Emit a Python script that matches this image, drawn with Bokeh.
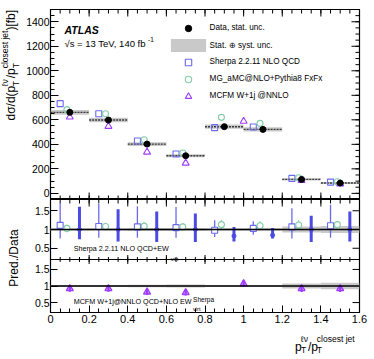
import math
from bokeh.plotting import figure
from bokeh.models import Range1d, FixedTicker, Label, Legend, LegendItem, Span
from bokeh.core.properties import value
from bokeh.layouts import column, row
from bokeh.embed import file_html
from bokeh.resources import INLINE

# ---------------- data ----------------
bin_lo = [0.0, 0.2, 0.4, 0.6, 0.8, 1.0, 1.2, 1.4]
bin_hi = [0.2, 0.4, 0.6, 0.8, 1.0, 1.2, 1.4, 1.6]
data_val = [661, 598, 402, 307, 544, 522, 114, 84]
data_tot_unc = [20, 18, 15, 13, 17, 17, 9, 8]
sherpa_val = [732, 650, 427, 321, 536, 541, 122, 92]
mg_val = [683, 650, 438, 329, 620, 571, 128, 95]
mcfm_lo = [0.0, 0.2, 0.4, 0.6, 0.8, 1.2, 1.4]
mcfm_hi = [0.2, 0.4, 0.6, 0.8, 1.2, 1.4, 1.6]
mcfm_val = [623, 547, 337, 247, 588, 105, 78]

# ratio panel 1
sherpa_ratio = [1.11, 1.08, 1.07, 1.05, 0.98, 1.03, 1.07, 1.10]
sherpa_ratio_lo = [0.76, 0.78, 0.78, 0.78, 0.80, 0.86, 0.76, 0.78]
sherpa_ratio_hi = [1.71, 1.68, 1.62, 1.60, 1.25, 1.22, 1.57, 1.66]
mg_ratio = [1.03, 1.08, 1.09, 1.07, 1.13, 1.10, 1.12, 1.13]
mg_ratio_err = [0.10, 0.10, 0.10, 0.10, 0.12, 0.12, 0.12, 0.10]
ew_ratio = [1.00, 1.00, 1.00, 1.00, 0.83, 0.85, 1.00, 1.00]
ew_ratio_lo = [0.74, 0.68, 0.67, 0.67, 0.68, 0.76, 0.67, 0.68]
ew_ratio_hi = [1.61, 1.54, 1.48, 1.43, 1.07, 1.04, 1.37, 1.48]
# ratio panel 2
mcfm_ew_ratio = [0.92, 0.92, 0.82, 0.80, 1.07, 0.92, 0.92]
mcfm_ew_err = [0.09, 0.09, 0.09, 0.09, 0.10, 0.10, 0.10]

x_ticks = [0, 0.2, 0.4, 0.6, 0.8, 1, 1.2, 1.4, 1.6]
x_tick_labels = ["0", "0.2", "0.4", "0.6", "0.8", "1", "1.2", "1.4", "1.6"]
x_minor = [round(i * 0.05, 2) for i in range(33)]
y_ticks = [0, 200, 400, 600, 800, 1000, 1200, 1400]
y_minor = [i * 50 for i in range(-1, 31)]
r_ticks = [0.5, 1, 1.5]
r_tick_labels = ["0.5", "1", "1.5"]

# ---------------- style ----------------
FONT = "Liberation Sans"
C_SHERPA = "#6a6af0"
C_EW = "#4b4be3"
C_MG = "#80cda6"
C_MCFM = "#9d3cff"
C_BAND = "#c9c9c9"

SW = 23            # left title strip width
W = 346            # panel figure width
LB, RB = 25, 10
TOP = 9
MAIN_H = 190
P1_H, P2_H = 60, 53
QB = 17
BS_H = 29
TOT_H = TOP + MAIN_H + P1_H + P2_H + QB + BS_H

centers = [(a + b) / 2 for a, b in zip(bin_lo, bin_hi)]
mcfm_c = [(a + b) / 2 for a, b in zip(mcfm_lo, mcfm_hi)]

CW = {'a': .556, 'b': .556, 'c': .5, 'd': .556, 'e': .556, 'f': .278, 'g': .556, 'h': .556, 'i': .222,
      'j': .222, 'k': .5, 'l': .222, 'm': .833, 'n': .556, 'o': .556, 'p': .556, 'r': .333, 's': .5,
      't': .278, 'u': .556, 'v': .5, 'w': .722, 'x': .5, 'y': .5, 'T': .611, ' ': .278, '/': .278,
      '(': .333, ')': .333, '[': .278, ']': .278, 'σ': .58, 'ℓ': .42, 'ν': .5, '.': .278, '-': .333,
      'S': .667, 'E': .667, 'W': .944, 'Q': .778, 'C': .722, 'D': .722, 'N': .722, 'L': .556,
      'O': .778, 'M': .833, 'F': .611, '+': .584, '@': 1.015, '2': .556, '1': .556, '=': .584,
      '3': .556, '4': .556, '0': .556, 'V': .667, ',': .278, '√': .549}


def tw(s, size):
    return sum(CW.get(ch, 0.556) for ch in s) * size


def lab(fig, x, y, text, size, style="normal"):
    fig.add_layout(Label(x=x, y=y, x_units="screen", y_units="screen", text=text, text_font=FONT,
                         text_font_size=f"{size}px", text_align="left", text_baseline="alphabetic",
                         text_font_style=style, text_color="black"))


def gtext(fig, x, y, text, size, angle=0.0, align="left"):
    fig.text(x=[x], y=[y], text=[text], angle=angle, text_font=value(FONT),
             text_font_size=value(f"{size}px"), text_align=align, text_baseline="alphabetic",
             text_color="black")


def strip(width, height):
    f = figure(width=width, height=height, x_range=Range1d(0, width), y_range=Range1d(0, height),
               output_backend="svg", toolbar_location=None, x_axis_location=None,
               y_axis_location=None, min_border=0)
    f.min_border_left = f.min_border_right = f.min_border_top = f.min_border_bottom = 0
    f.grid.visible = False
    f.outline_line_color = None
    return f


def style_axis(ax, ticker, size, major, minor, overrides=None, standoff=1):
    ax.ticker = ticker
    ax.major_tick_in = major
    ax.major_tick_out = 0
    ax.minor_tick_in = minor
    ax.minor_tick_out = 0
    ax.axis_line_color = None
    ax.major_tick_line_color = "black"
    ax.minor_tick_line_color = "black"
    ax.major_label_text_font = FONT
    ax.major_label_text_color = "black"
    ax.major_label_text_font_size = size
    ax.major_label_standoff = standoff
    if overrides:
        ax.major_label_overrides = overrides


def edge_ticks(fig, xs, ys, size, angle, y_range_name="default"):
    fig.scatter(x=xs, y=ys, marker="dash", angle=angle, size=size, line_color="black",
                line_width=1, y_range_name=y_range_name)


x_over = {t: s for t, s in zip(x_ticks, x_tick_labels)}
VERT = math.pi / 2

# ---------------- main panel ----------------
p = figure(width=W, height=MAIN_H + TOP, x_range=Range1d(0, 1.6), y_range=Range1d(-50, 1500),
           output_backend="svg", toolbar_location=None, x_axis_location=None,
           min_border_left=LB, min_border_right=RB, min_border_top=TOP, min_border_bottom=0)
p.grid.visible = False
p.outline_line_color = "black"
p.outline_line_width = 1.2
style_axis(p.yaxis[0], FixedTicker(ticks=y_ticks, minor_ticks=y_minor), "10.5px", 8, 4)

# mirror / inner ticks on the other edges
edge_ticks(p, x_ticks, [1500] * len(x_ticks), 14, VERT)
edge_ticks(p, x_minor, [1500] * len(x_minor), 8, VERT)
edge_ticks(p, x_ticks, [-50] * len(x_ticks), 14, VERT)
edge_ticks(p, x_minor, [-50] * len(x_minor), 8, VERT)
edge_ticks(p, [1.6] * len(y_ticks), y_ticks, 16, 0)
edge_ticks(p, [1.6] * len(y_minor), y_minor, 8, 0)

band_top = [v + e for v, e in zip(data_val, data_tot_unc)]
band_bot = [v - e for v, e in zip(data_val, data_tot_unc)]
band_r = p.quad(left=bin_lo, right=bin_hi, bottom=band_bot, top=band_top, fill_color=C_BAND,
                line_color=None)
p.segment(x0=bin_lo, x1=bin_hi, y0=data_val, y1=data_val, line_color="#3a3a3a", line_width=1.4,
          line_dash="2 1")
sherpa_r = p.scatter(x=[c - 0.05 for c in centers], y=sherpa_val, marker="square", size=6,
                     fill_color=None, line_color=C_SHERPA, line_width=1.1)
mg_r = p.scatter(x=[c - 0.015 for c in centers], y=mg_val, marker="circle", size=6,
                 fill_color=None, line_color=C_MG, line_width=1.1)
mcfm_r = p.scatter(x=mcfm_c, y=mcfm_val, marker="triangle", size=7, fill_color=None,
                   line_color=C_MCFM, line_width=1.1)
data_r = p.scatter(x=centers, y=data_val, marker="circle", size=6, fill_color="black", line_color="black")

leg = Legend(items=[
    LegendItem(label="Data, stat. unc.", renderers=[data_r]),
    LegendItem(label="Stat. \u2295 syst. unc.", renderers=[band_r]),
    LegendItem(label="Sherpa 2.2.11 NLO QCD", renderers=[sherpa_r]),
    LegendItem(label="MG_aMC@NLO+Pythia8 FxFx", renderers=[mg_r]),
    LegendItem(label="MCFM W+1j @NNLO", renderers=[mcfm_r]),
], location=(115.6, 95.3), glyph_width=44, glyph_height=16, label_height=16, label_standoff=0,
    spacing=1, padding=0, margin=0, border_line_color=None, background_fill_alpha=0,
    label_text_font=FONT, label_text_font_size="8.2px", label_text_color="black")
p.add_layout(leg)

lab(p, 14, 170, "ATLAS", 10.5, style="bold italic")
s_txt = "\u221as = 13 TeV, 140 fb"
lab(p, 14, 156, s_txt, 9.5)
lab(p, 14 + tw(s_txt, 9.5) + 0.5, 160, "-1", 6.5)

# ---------------- ratio panels ----------------
k1 = P1_H / 1.6   # px per unit in panel 1
k2 = P2_H / 1.6   # px per unit in panel 2
r_bottom = 0.2 - P2_H / k1
r2_top = 0.2 + (P1_H + P2_H) / k2


def r2_to_r1(v):
    return r_bottom + (v - 0.2) * k2 / k1


ticks_all = list(r_ticks) + [r2_to_r1(v) for v in r_ticks]
labels_all = list(r_tick_labels) + list(r_tick_labels)
r_over = {t: s for t, s in zip(ticks_all, labels_all)}

q = figure(width=W, height=P1_H + P2_H + QB, x_range=p.x_range, y_range=Range1d(r_bottom, 1.8),
           output_backend="svg", toolbar_location=None, min_border_left=LB, min_border_right=RB,
           min_border_top=0, min_border_bottom=QB)
q.extra_y_ranges = {"r2": Range1d(0.2, r2_top)}
q.grid.visible = False
q.outline_line_color = "black"
q.outline_line_width = 1.2

style_axis(q.xaxis[0], FixedTicker(ticks=x_ticks, minor_ticks=x_minor), "11px", 7, 4,
           overrides=x_over, standoff=2)
style_axis(q.yaxis[0], FixedTicker(ticks=ticks_all, minor_ticks=[]), "10.5px", 7, 0, overrides=r_over)

edge_ticks(q, x_ticks, [1.8] * len(x_ticks), 14, VERT)
edge_ticks(q, x_minor, [1.8] * len(x_minor), 8, VERT)
edge_ticks(q, [1.6] * len(ticks_all), ticks_all, 14, 0)

# panel 1 content
rel = [e / v for e, v in zip(data_tot_unc, data_val)]
q.quad(left=bin_lo, right=bin_hi, bottom=[1 - r for r in rel], top=[1 + r for r in rel],
       fill_color=C_BAND, line_color=None)
q.add_layout(Span(location=1.0, dimension="width", line_color="black", line_width=1.5))
sx = [c - 0.05 for c in centers]
q.segment(x0=sx, x1=sx, y0=sherpa_ratio_lo, y1=sherpa_ratio_hi, line_color=C_SHERPA, line_width=1.3)
q.scatter(x=sx, y=sherpa_ratio, marker="square", size=6, fill_color="white", line_color=C_SHERPA,
          line_width=1.1)
mx = [c - 0.015 for c in centers]
q.segment(x0=mx, x1=mx, y0=[v - e for v, e in zip(mg_ratio, mg_ratio_err)],
          y1=[v + e for v, e in zip(mg_ratio, mg_ratio_err)], line_color=C_MG, line_width=1.3)
q.scatter(x=mx, y=mg_ratio, marker="circle", size=6, fill_color="white", line_color=C_MG,
          line_width=1.1)
ex = [c + 0.05 for c in centers]
q.segment(x0=ex, x1=ex, y0=ew_ratio_lo, y1=ew_ratio_hi, line_color=C_EW, line_width=3)
q.scatter(x=ex, y=ew_ratio, marker="circle", size=4, fill_color=C_EW, line_color=C_EW)

# boundary between ratio panels
q.add_layout(Span(location=0.2, dimension="width", line_color="black", line_width=1.2))
edge_ticks(q, x_ticks, [0.2] * len(x_ticks), 9, VERT)
edge_ticks(q, x_minor, [0.2] * len(x_minor), 5, VERT)

# panel 2 content
rel2 = []
for lo, hi in zip(mcfm_lo, mcfm_hi):
    vals = [r for a, r in zip(bin_lo, rel) if lo <= a < hi]
    rel2.append(max(vals))
q.quad(left=mcfm_lo, right=mcfm_hi, bottom=[1 - r for r in rel2], top=[1 + r for r in rel2],
       fill_color=C_BAND, line_color=None, y_range_name="r2")
q.add_layout(Span(location=r2_to_r1(1.0), dimension="width", line_color="black", line_width=1.5))
q.segment(x0=mcfm_c, x1=mcfm_c, y0=[v - e for v, e in zip(mcfm_ew_ratio, mcfm_ew_err)],
          y1=[v + e for v, e in zip(mcfm_ew_ratio, mcfm_ew_err)], line_color=C_MCFM, line_width=2.2,
          y_range_name="r2")
q.scatter(x=mcfm_c, y=mcfm_ew_ratio, marker="triangle", size=7, fill_color=C_MCFM, fill_alpha=0.45,
          line_color=C_MCFM, line_width=1.3, y_range_name="r2")

# ratio legends (proxies)
px1 = q.quad(left=[], right=[], bottom=[], top=[], fill_color=C_EW, line_color=None)
px2 = q.quad(left=[], right=[], bottom=[], top=[], fill_color=C_MCFM, line_color=None)
t1 = "Sherpa 2.2.11 NLO QCD+EW"
t2 = "MCFM W+1j@NNLO QCD+NLO EW"
for txt, rend, yb in [(t1, px1, 59), (t2, px2, 6)]:
    q.add_layout(Legend(items=[LegendItem(label=txt, renderers=[rend])], location=(17.7, yb),
                        glyph_width=4, glyph_height=10, label_height=10, label_standoff=2, padding=0,
                        margin=0, border_line_color=None, background_fill_alpha=0,
                        label_text_font=FONT, label_text_font_size="7.2px", label_text_color="black"))
lab(q, 24 + tw(t1, 7.2) + 0.5, 53.5, "virt", 5.5)
lab(q, 24 + tw(t2, 7.2) + 0.5, 3.5, "virt", 5.5)
lab(q, 24 + tw(t2, 7.2) + 0.5, 13, "Sherpa", 6.5)

# ---------------- left title strip ----------------
ls = strip(SW, TOT_H)


def py(page_y):
    return TOT_H - page_y


ASC = 0.75  # rotated text is anchored at its top edge: shift by the ascent


def rich_v(fig, xb, y0, groups):
    y = y0
    for grp in groups:
        adv = 0
        for (t, sz, dy) in grp:
            gtext(fig, xb - dy - ASC * sz, y, t, sz, angle=VERT)
            adv = max(adv, tw(t, sz))
        y += adv


rich_v(ls, 19.5, py(120), [
    [("d\u03c3/d(p", 12, 0)],
    [("T", 8.5, -2.5), ("\u2113\u03bd", 8.5, 8.3)],
    [("/p", 12, 0)],
    [("T", 8.5, -2.5), ("closest jet", 8.5, 8.3)],
    [(")[fb]", 12, 0)],
])
gtext(ls, 22.5 - ASC * 12, py(257.5), "Pred./Data", 12, angle=VERT, align="center")

# ---------------- bottom title strip ----------------
bs = strip(W, BS_H)
groups = [
    [("p", 12, 0)],
    [("T", 8.5, -3.5), ("\u2113\u03bd", 8.5, 8)],
    [("/p", 12, 0)],
    [("T", 8.5, -3.5), ("closest jet", 8.5, 8)],
]
total = sum(max(tw(t, s) for t, s, _ in g) for g in groups)
x = (W - RB) - total
for g in groups:
    for t, s, dy in g:
        gtext(bs, x, 12 + dy, t, s)
    x += max(tw(t, s) for t, s, _ in g)

layout = row(ls, column(p, q, bs))
open("out.html", "w").write(file_html(layout, INLINE))
